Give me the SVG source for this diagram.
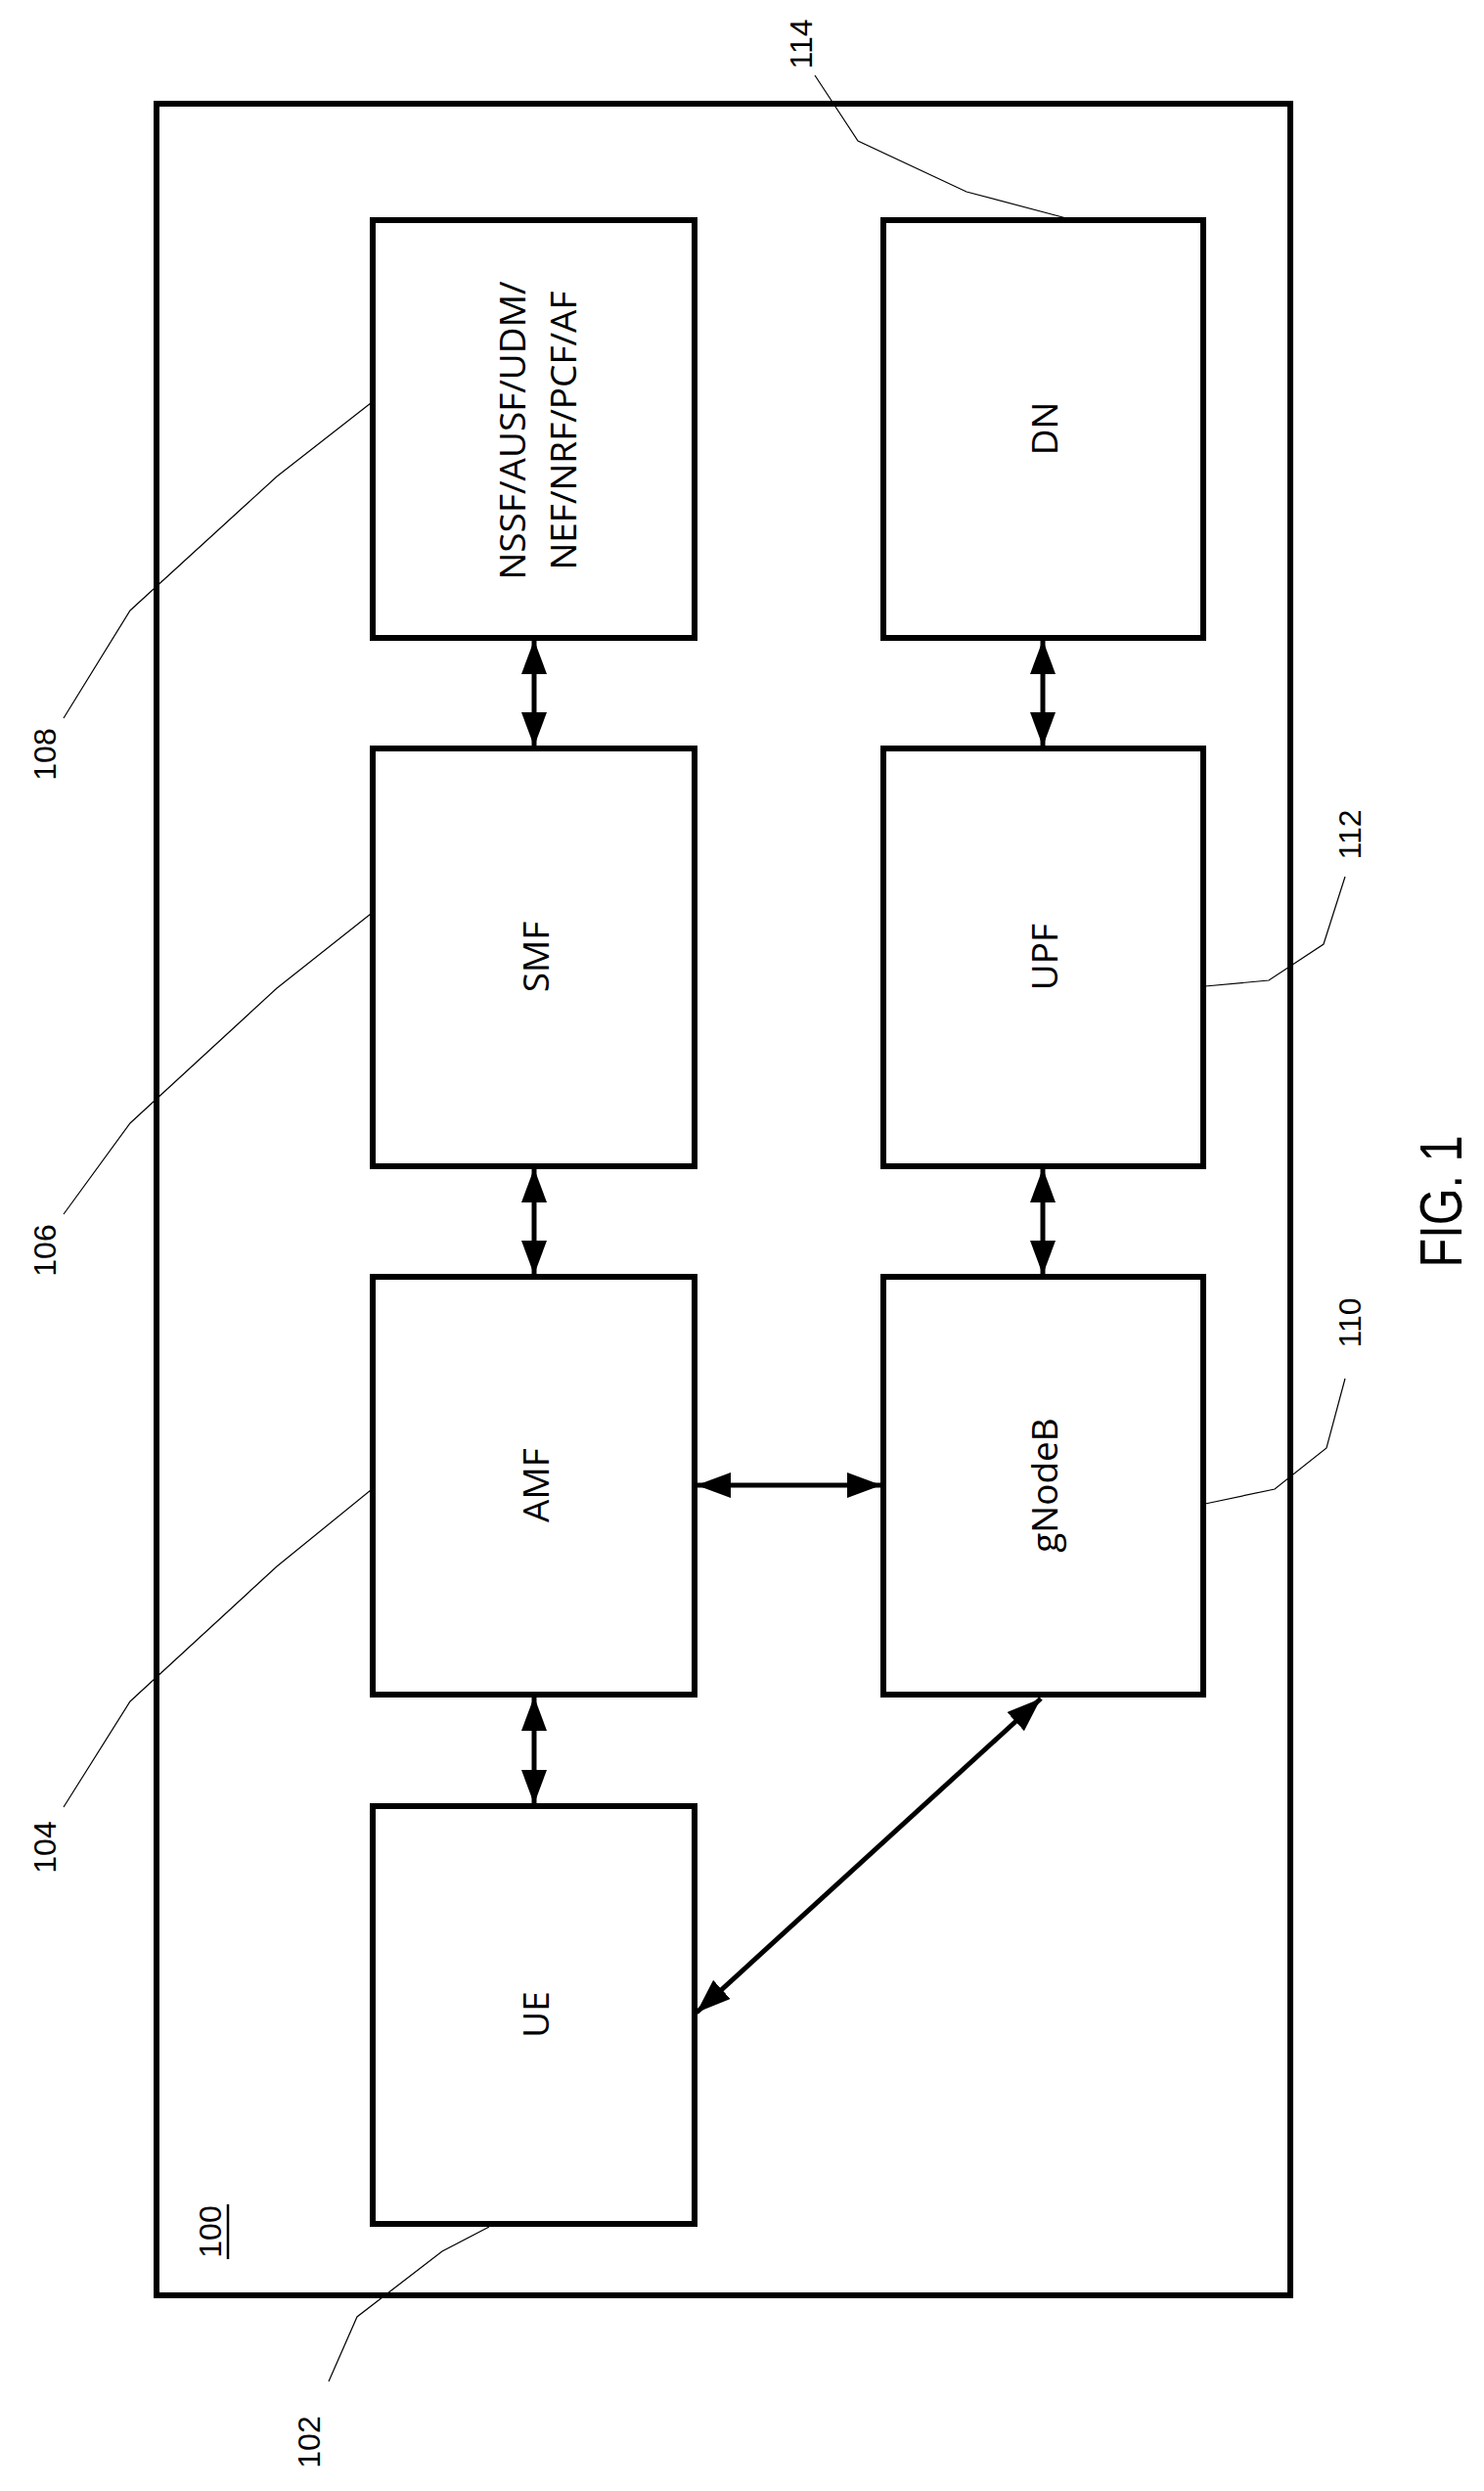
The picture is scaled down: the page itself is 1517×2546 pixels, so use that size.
<svg xmlns="http://www.w3.org/2000/svg" width="1517" height="2546" viewBox="0 0 1517 2546">
<style>
.box{fill:#fff;stroke:#000;stroke-width:6}
.lbl{font-family:"Open Sans","Noto Sans",sans-serif;font-size:37px;text-anchor:middle;dominant-baseline:central}
.ref{font-family:"Liberation Sans",Arial,sans-serif;font-size:32px;text-anchor:middle;dominant-baseline:central}
.lead{fill:none;stroke:#000;stroke-width:1.2}
.con{stroke:#000;stroke-width:5;fill:none;marker-start:url(#ah);marker-end:url(#ah)}
</style>
<defs>
<marker id="ah" viewBox="0 0 35 26" refX="35" refY="13" markerWidth="35" markerHeight="26" markerUnits="userSpaceOnUse" orient="auto-start-reverse">
<path d="M0,0 L35,13 L0,26 Z" fill="#000"/>
</marker>
</defs>
<rect width="1517" height="2546" fill="#fff"/>
<g id="frame100">
<rect x="160" y="106" width="1159" height="2240" fill="none" stroke="#000" stroke-width="6"/>
<text class="ref" transform="translate(215,2281) rotate(-90)">100</text>
<line x1="233" y1="2253" x2="233" y2="2309" stroke="#000" stroke-width="2.5"/>
</g>
<g id="nssf">
<rect class="box" x="381" y="225" width="329" height="427"/>
<text class="lbl" transform="translate(522,440) rotate(-90)">NSSF/AUSF/UDM/</text>
<text class="lbl" transform="translate(574,440) rotate(-90)">NEF/NRF/PCF/AF</text>
</g>
<g id="dn">
<rect class="box" x="903" y="225" width="327" height="427"/>
<text class="lbl" transform="translate(1066,438) rotate(-90)">DN</text>
</g>
<g id="smf">
<rect class="box" x="381" y="765" width="329" height="427"/>
<text class="lbl" transform="translate(546,978) rotate(-90)">SMF</text>
</g>
<g id="upf">
<rect class="box" x="903" y="765" width="327" height="427"/>
<text class="lbl" transform="translate(1066,978) rotate(-90)">UPF</text>
</g>
<g id="amf">
<rect class="box" x="381" y="1305" width="329" height="427"/>
<text class="lbl" transform="translate(546,1518) rotate(-90)">AMF</text>
</g>
<g id="gnodeb">
<rect class="box" x="903" y="1305" width="327" height="427"/>
<text class="lbl" transform="translate(1066,1518) rotate(-90)">gNodeB</text>
</g>
<g id="ue">
<rect class="box" x="381" y="1846" width="329" height="427"/>
<text class="lbl" transform="translate(546,2059) rotate(-90)">UE</text>
</g>
<g id="connectors">
<line class="con" x1="546" y1="654" x2="546" y2="763"/>
<line class="con" x1="1066" y1="654" x2="1066" y2="763"/>
<line class="con" x1="546" y1="1194" x2="546" y2="1303"/>
<line class="con" x1="1066" y1="1194" x2="1066" y2="1303"/>
<line class="con" x1="546" y1="1734" x2="546" y2="1844"/>
<line class="con" x1="712" y1="1518" x2="901" y2="1518"/>
<line class="con" x1="1064" y1="1736" x2="712" y2="2057"/>
</g>
<g id="leaders">
<polyline class="lead" points="833,77 877,144 988,196 1090,223"/>
<text class="ref" transform="translate(819,45) rotate(-90)">114</text>
<polyline class="lead" points="65,734 133,624 283,487 379,412"/>
<text class="ref" transform="translate(46,771) rotate(-90)">108</text>
<polyline class="lead" points="65,1241 133,1148 283,1010 379,934"/>
<text class="ref" transform="translate(46,1278) rotate(-90)">106</text>
<polyline class="lead" points="65,1847 133,1739 283,1601 379,1523"/>
<text class="ref" transform="translate(46,1888) rotate(-90)">104</text>
<polyline class="lead" points="336,2434 365,2368 452,2301 500,2276"/>
<text class="ref" transform="translate(316,2496) rotate(-90)">102</text>
<polyline class="lead" points="1232,1008 1297,1002 1353,965 1375,896"/>
<text class="ref" transform="translate(1380,853) rotate(-90)">112</text>
<polyline class="lead" points="1232,1537 1303,1522 1356,1480 1375,1409"/>
<text class="ref" transform="translate(1380,1352) rotate(-90)">110</text>
</g>
<text transform="translate(1472,1228) rotate(-90)" font-family="'Liberation Sans',Arial,sans-serif" font-size="62" text-anchor="middle" dominant-baseline="central" textLength="135" lengthAdjust="spacingAndGlyphs">FIG. 1</text>
</svg>
